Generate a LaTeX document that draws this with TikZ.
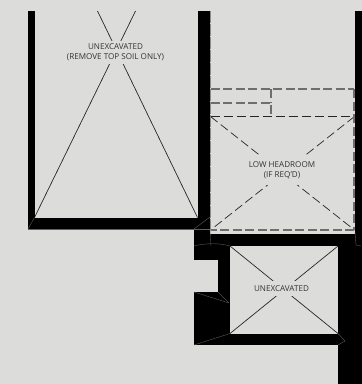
\documentclass[tikz,border=0pt]{standalone}
\usepackage{fontspec}
\setmainfont{Open Sans}
\definecolor{bgc}{HTML}{DCDCDA}
\definecolor{dashc}{HTML}{6E6E6E}
\tikzset{
 wall/.style={fill=black,draw=none},
 seam/.style={draw=black!62,line width=.35pt},
 xline/.style={draw=black!85,line width=.7pt},
 xdash/.style={draw=black!85,line width=.7pt,dash pattern=on 9pt off 4pt},
 thickdash/.style={draw=dashc,line width=1.2pt,dash pattern=on 9pt off 3.5pt},
 thindash/.style={draw=black!45,line width=.6pt,dash pattern=on 12pt off 1pt},
 lbl/.style={fill=bgc,inner sep=1pt,align=center,text=black!80,font=\fontsize{8.1}{10.4}\selectfont}
}
\begin{document}
\begin{tikzpicture}[x=1pt,y=-1pt]
\path[use as bounding box,fill=bgc] (0,0) rectangle (362,384);
% X lines
\draw[xline] (34.5,217.5) -- (135.5,11);
\draw[xline] (197.5,217.5) -- (97.5,11);
\draw[xline] (230,333.5) -- (338,246);
\draw[xline] (230,246) -- (338,333.5);
\draw[xdash] (210.5,116.5) -- (354.5,230);
\draw[xdash] (354.5,116.5) -- (210.5,230);
% walls
\fill[wall] (28,11) rectangle (34.5,229);
\fill[wall] (28,217.5) rectangle (198,229);
\fill[wall] (198,11) rectangle (210,233);
\fill[wall] (194,229) rectangle (210,246);
\fill[wall] (210,233.5) rectangle (355,246);
\fill[wall] (355,11) rectangle (362,246);
\fill[wall] (338,246) rectangle (361.5,384);
\fill[wall] (194,246) rectangle (230,259.5);
\fill[wall] (218,259.5) rectangle (230,292);
\fill[wall] (194,292) rectangle (230,345);
\fill[wall] (194,333.5) rectangle (338,345);
% seams
\draw[seam] (28,229) -- (194,229);
\draw[seam] (28,229) -- (34.5,217.5);
\draw[seam] (194,229) -- (210,217);
\draw[seam] (194,229) -- (210,229);
\draw[seam] (210,229) -- (211,246);
\draw[seam] (194,246) .. controls (205,243) and (220,243) .. (230,246);
\draw[seam] (194,292) -- (229,303);
\draw[seam] (218,292) -- (229,303);
\draw[seam] (194,345) -- (230,333.5);
\draw[seam] (338,333.5) -- (345,341) -- (338,345);
\draw[seam] (355,232) -- (356,245) -- (361,246);
% dashes
\draw[thindash] (210.5,11) -- (210.5,230);
\draw[thickdash] (210.5,89) -- (354,89);
\draw[thickdash] (210.5,103) -- (271,103) -- (271,116);
\draw[thickdash] (271,89) -- (271,103);
\draw[xdash] (210.5,116.5) -- (354.5,116.5);
\draw[thickdash] (354,89) -- (354,230);
\draw[thickdash] (354,230) -- (210.5,230);
% labels
\node[lbl,minimum height=23pt] (unexA) at (115.5,52.5) {UNEXCAVATED\\(REMOVE TOP SOIL ONLY)};
\node[lbl,minimum height=29pt] (low) at (282,170.5) {LOW HEADROOM\\(IF REQ'D)};
\node[lbl,minimum height=15pt] (unexB) at (281.5,288.5) {UNEXCAVATED};
\end{tikzpicture}
\end{document}
